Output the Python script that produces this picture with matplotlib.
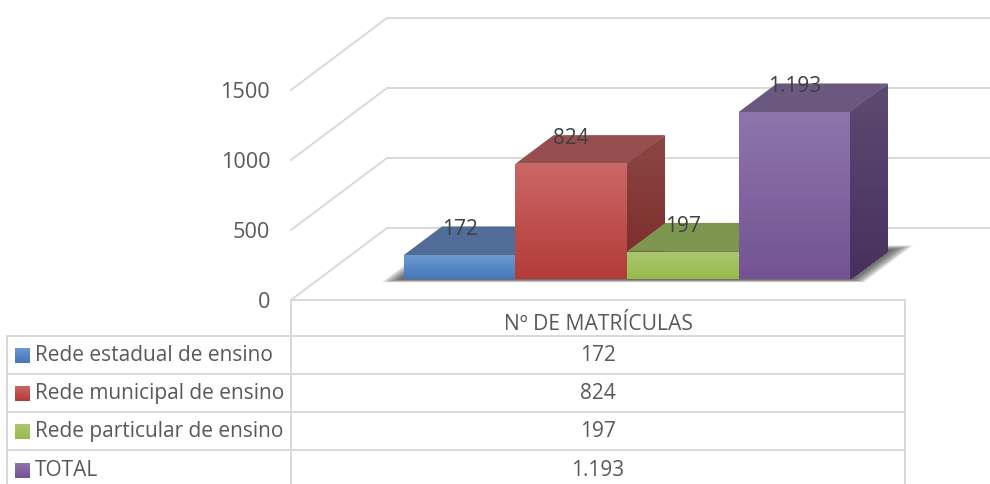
import numpy as np
import matplotlib
matplotlib.use('Agg')
import matplotlib.pyplot as plt
from matplotlib.colors import to_rgb
from matplotlib.patches import Polygon, Rectangle

# data
categories = ['Rede estadual de ensino', 'Rede municipal de ensino',
              'Rede particular de ensino', 'TOTAL']
values = [172, 824, 197, 1193]
value_labels = ['172', '824', '197', '1.193']
y_ticks = [0, 500, 1000, 1500]
grid_values = [0, 500, 1000, 1500]
series_name = 'Nº DE MATRÍCULAS'

# colours: front top, front bottom, top face, side top, side bottom
blue = ('#6b97cd', '#4177b9', '#4f6d96', '#46618a', '#3a5a85')
red = ('#ca6665', '#b23a37', '#964f4e', '#8a4644', '#7a2826')
green = ('#a9c76f', '#96b948', '#7d964f', '#76904a', '#6b8a3a')
purple = ('#8d74ab', '#735293', '#6b587f', '#5b4a72', '#472f5c')
bar_colors = [blue, red, green, purple]

GRID = '#d9d9d9'
TEXT = '#595959'
plt.rcParams['font.family'] = ['Open Sans', 'DejaVu Sans']

W, H = 990, 484
# oblique projection of the 3d box, in data units
DX = 96 / 111.6   # depth -> categories
DY = 72 / 0.14    # depth -> value units
D_FRONT = 0.29
D_BACK = 0.6875


def project(x, v, d):
    return x + d * DX, v + d * DY


def gradient_face(ax, corners, c_top, c_bot, z, steps=48):
    # each strip reaches down to the bottom of the face, so no seams
    poly = Polygon(corners, closed=True, fc='none', ec='none', zorder=z)
    ax.add_patch(poly)
    xs = [c[0] for c in corners]
    ys = [c[1] for c in corners]
    top, bot = np.array(to_rgb(c_top)), np.array(to_rgb(c_bot))
    for t in np.linspace(0, 1, steps, endpoint=False):
        level = max(ys) - t * (max(ys) - min(ys))
        r = Rectangle((min(xs), min(ys)), max(xs) - min(xs), level - min(ys),
                      fc=(1 - t) * top + t * bot, ec='none', zorder=z)
        ax.add_patch(r)
        r.set_clip_path(poly)


fig = plt.figure(figsize=(W / 100, H / 100), dpi=100, facecolor='white')

# table layer, pixel coordinates
tb = fig.add_axes([0, 0, 1, 1], zorder=0)
tb.axis('off')

# chart layer: x=0 is the left of the first bar at the front of the floor
ax = fig.add_axes([291 / W, 184 / H, 699 / W, 300 / H], zorder=1)
ax.patch.set_alpha(0)
x_left = (291 - 376) / 111.6
x_right = (990 - 376) / 111.6
y_top = 300 / 0.14

# walls
for v in grid_values:
    x0, y0 = project(x_left, v, 0)
    x1, y1 = project(x_left, v, 1)
    ax.plot([x0, x1, x_right + 1], [y0, y1, y1], color=GRID, lw=1.4, zorder=1,
            clip_on=False, solid_joinstyle='miter')

# shadow on the floor
n = len(values)
for k in range(9, 0, -1):
    e = 0.16 * k / 9
    dd = 0.07 * k / 9
    pts = [project(-e, 0, D_FRONT - dd * 0.6), project(n + e, 0, D_FRONT - dd * 0.6),
           project(n + e, 0, D_BACK + dd), project(-e, 0, D_BACK + dd)]
    ax.add_patch(Polygon(pts, closed=True, fc='#303030', ec='none', alpha=0.13, zorder=2))

# bars, left to right so that each one covers the previous
z = 3
for i, (v, c) in enumerate(zip(values, bar_colors)):
    fbl = project(i, 0, D_FRONT)
    fbr = project(i + 1, 0, D_FRONT)
    ftl = project(i, v, D_FRONT)
    ftr = project(i + 1, v, D_FRONT)
    btl = project(i, v, D_BACK)
    btr = project(i + 1, v, D_BACK)
    bbr = project(i + 1, 0, D_BACK)
    gradient_face(ax, [fbr, ftr, btr, bbr], c[3], c[4], z)
    ax.add_patch(Polygon([ftl, ftr, btr, btl], closed=True, fc=c[2], ec='none', zorder=z + 1))
    gradient_face(ax, [fbl, fbr, ftr, ftl], c[0], c[1], z + 2)
    z += 3

# data labels
for i, (v, lab) in enumerate(zip(values, value_labels)):
    lx, _ = project(i + 0.5, v, D_FRONT)
    _, ly = project(i + 0.5, v, D_BACK)
    ax.text(lx, ly - 24, lab, ha='center', va='center', fontsize=15, color='#404040', zorder=50)

ax.set_xlim(x_left, x_right)
ax.set_ylim(0, y_top)
ax.set_yticks(y_ticks)
ax.set_yticklabels([str(t) for t in y_ticks], fontsize=15.6, color=TEXT)
ax.set_xticks([])
ax.tick_params(axis='y', length=0, pad=15)
for s in ax.spines.values():
    s.set_visible(False)

# data table under the chart
row_y = [335.5, 374, 412, 450]
row_text_y = [355, 393, 431, 470]
tb.plot([291, 905], [300, 300], color=GRID, lw=1.4)
tb.plot([291, 291], [300, H], color=GRID, lw=1.4)
tb.plot([905, 905], [300, H], color=GRID, lw=1.4)
tb.plot([7, 7], [335.5, H], color=GRID, lw=1.4)
for y in row_y:
    tb.plot([7, 905], [y, y], color=GRID, lw=1.4)
tb.text(598, 325, series_name, ha='center', va='center', fontsize=15.2, color=TEXT)
for cat, lab, y, c in zip(categories, value_labels, row_text_y, bar_colors):
    # y axis of this layer runs downwards, so the gradient colours swap
    gradient_face(tb, [(15, y - 7), (30, y - 7), (30, y + 8), (15, y + 8)], c[1], c[0], 2)
    tb.text(35, y + 0.5, cat, ha='left', va='center', fontsize=15.05, color=TEXT)
    tb.text(598, y + 0.5, lab, ha='center', va='center', fontsize=15, color=TEXT)
tb.set_xlim(0, W)
tb.set_ylim(H, 0)

fig.savefig('out.png', dpi=100)
